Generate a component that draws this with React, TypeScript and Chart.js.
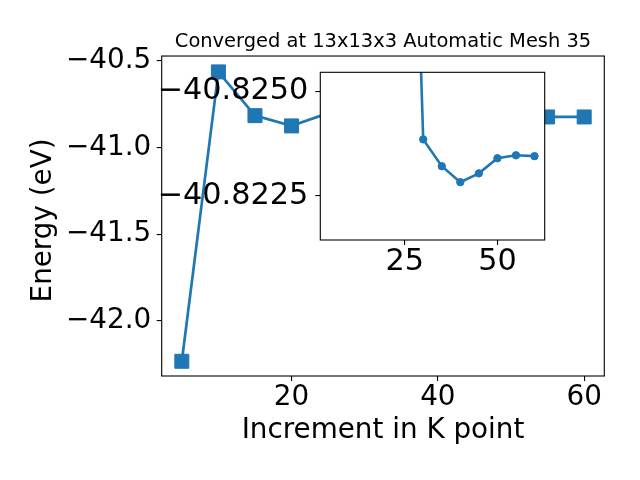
import { useEffect, useRef } from 'react';
import { Chart, registerables } from 'chart.js';

Chart.register(...registerables);

const kPoints = [5, 10, 15, 20, 25, 30, 35, 40, 45, 50, 55, 60];
const energy = [-42.233, -40.5635, -40.816, -40.875, -40.802, -40.82385, -40.82321, -40.82283, -40.82304, -40.8234, -40.82347, -40.82345];
const insetKPoints = [25, 30, 35, 40, 45, 50, 55, 60];
const insetEnergy = [-40.8376, -40.82385, -40.82321, -40.82283, -40.82304, -40.8234, -40.82347, -40.82345];
const xTicks = [20, 40, 60];
const yTicks = [-42.0, -41.5, -41.0, -40.5];
const insetXTicks = [25, 50];
const insetYTicks = [-40.825, -40.8225];
const titleText = 'Converged at 13x13x3 Automatic Mesh 35';
const xLabel = 'Increment in K point';
const yLabel = 'Energy (eV) ';

const BLUE = '#1f77b4';
const FONT = 'DejaVu Sans';
const TICK_FONT = { family: FONT, size: 27.8, lineHeight: 1 };
const INSET_TICK_FONT = { family: FONT, size: 30.3, lineHeight: 1 };
const LABEL_FONT = { family: FONT, size: 27.8, lineHeight: 1.2 };

const fmt = (v: number, d: number) => (v < 0 ? '\u2212' : '') + Math.abs(v).toFixed(d);

const framePlugin = {
  id: 'frame',
  beforeDraw(chart: any, _a: any, opts: any) {
    if (opts && opts.fill) {
      const { ctx, chartArea: c } = chart;
      ctx.save();
      ctx.fillStyle = '#ffffff';
      ctx.fillRect(c.left, c.top, c.right - c.left, c.bottom - c.top);
      ctx.restore();
    }
  },
  afterDraw(chart: any) {
    const { ctx, chartArea: c } = chart;
    ctx.save();
    ctx.strokeStyle = '#000000';
    ctx.lineWidth = 1.1;
    ctx.strokeRect(c.left, c.top, c.right - c.left, c.bottom - c.top);
    ctx.restore();
  },
};

const gridOpts = {
  display: true,
  drawOnChartArea: false,
  drawTicks: true,
  tickLength: 5,
  color: '#000000',
  lineWidth: 1.1,
};

export default function App() {
  const mainRef = useRef<HTMLCanvasElement | null>(null);
  const insetRef = useRef<HTMLCanvasElement | null>(null);

  useEffect(() => {
    Chart.defaults.font.family = FONT;
    Chart.defaults.color = '#000000';

    const main = new Chart(mainRef.current as HTMLCanvasElement, {
      type: 'line',
      data: {
        datasets: [
          {
            data: kPoints.map((k, i) => ({ x: k, y: energy[i] })),
            borderColor: BLUE,
            backgroundColor: BLUE,
            borderWidth: 2.7,
            pointStyle: 'rect',
            pointRadius: 9.9,
            pointBorderWidth: 1,
            pointBackgroundColor: BLUE,
            pointBorderColor: BLUE,
            tension: 0,
          },
        ],
      },
      options: {
        responsive: false,
        animation: false,
        events: [],
        layout: { padding: { left: 0, right: 35.7, top: 0, bottom: 0 } },
        plugins: {
          legend: { display: false },
          tooltip: { enabled: false },
          title: {
            display: true,
            text: titleText,
            fullSize: false,
            font: { family: FONT, size: 19.44, weight: 'normal', lineHeight: 1.2 },
            color: '#000000',
            padding: { top: 30.3, bottom: 2.4 },
          },
        } as any,
        scales: {
          x: {
            type: 'linear',
            min: 2.25,
            max: 62.75,
            grid: gridOpts,
            border: { display: false },
            afterBuildTicks: (s: any) => {
              s.ticks = xTicks.map((v) => ({ value: v }));
            },
            afterFit: (s: any) => {
              s.height = 104;
            },
            ticks: {
              font: TICK_FONT,
              color: '#000000',
              padding: 2.5,
              maxRotation: 0,
              autoSkip: false,
              callback: (v: any) => fmt(Number(v), 0),
            },
            title: {
              display: true,
              text: xLabel,
              font: LABEL_FONT,
              color: '#000000',
              padding: { top: 0, bottom: 32.8 },
            },
          },
          y: {
            type: 'linear',
            min: -42.318,
            max: -40.472,
            grid: gridOpts,
            border: { display: false },
            afterBuildTicks: (s: any) => {
              s.ticks = yTicks.map((v) => ({ value: v }));
            },
            afterFit: (s: any) => {
              s.width = 161.7;
            },
            ticks: {
              font: TICK_FONT,
              color: '#000000',
              padding: 5.5,
              autoSkip: false,
              callback: (v: any) => fmt(Number(v), 1),
            },
            title: {
              display: true,
              text: yLabel,
              font: LABEL_FONT,
              color: '#000000',
              padding: { top: 26.6, bottom: 0 },
            },
          },
        },
      },
      plugins: [framePlugin],
    } as any);

    const inset = new Chart(insetRef.current as HTMLCanvasElement, {
      type: 'line',
      data: {
        datasets: [
          {
            data: insetKPoints.map((k, i) => ({ x: k, y: insetEnergy[i] })),
            borderColor: BLUE,
            backgroundColor: BLUE,
            borderWidth: 2.6,
            pointStyle: 'circle',
            pointRadius: 3.7,
            pointBorderWidth: 1,
            pointBackgroundColor: BLUE,
            pointBorderColor: BLUE,
            tension: 0,
          },
        ],
      },
      options: {
        responsive: false,
        animation: false,
        events: [],
        layout: { padding: { left: 0, right: 95.3, top: 72.3, bottom: 0 } },
        plugins: {
          legend: { display: false },
          tooltip: { enabled: false },
          title: { display: false },
          frame: { fill: true },
        } as any,
        scales: {
          x: {
            type: 'linear',
            min: 2.25,
            max: 62.75,
            grid: gridOpts,
            border: { display: false },
            afterBuildTicks: (s: any) => {
              s.ticks = insetXTicks.map((v) => ({ value: v }));
            },
            afterFit: (s: any) => {
              s.height = 240;
            },
            ticks: {
              font: INSET_TICK_FONT,
              color: '#000000',
              padding: 2,
              maxRotation: 0,
              autoSkip: false,
              callback: (v: any) => fmt(Number(v), 0),
            },
          },
          y: {
            type: 'linear',
            reverse: true,
            min: -40.82545,
            max: -40.82145,
            grid: gridOpts,
            border: { display: false },
            afterBuildTicks: (s: any) => {
              s.ticks = insetYTicks.map((v) => ({ value: v }));
            },
            afterFit: (s: any) => {
              s.width = 320.3;
            },
            ticks: {
              font: INSET_TICK_FONT,
              color: '#000000',
              padding: 7,
              autoSkip: false,
              callback: (v: any) => fmt(Number(v), 4),
            },
          },
        },
      },
      plugins: [framePlugin],
    } as any);

    return () => {
      main.destroy();
      inset.destroy();
    };
  }, []);

  return (
    <div style={{ position: 'fixed', left: 0, top: 0, width: 640, height: 480, background: '#ffffff' }}>
      <canvas ref={mainRef} width={640} height={480} style={{ position: 'absolute', left: 0, top: 0 }} />
      <canvas ref={insetRef} width={640} height={480} style={{ position: 'absolute', left: 0, top: 0 }} />
    </div>
  );
}
